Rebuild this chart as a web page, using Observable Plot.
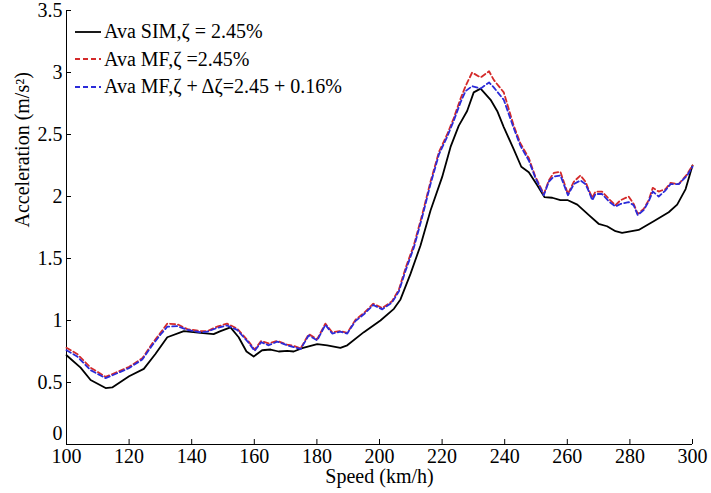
<!DOCTYPE html>
<html><head><meta charset="utf-8">
<script src="https://cdn.jsdelivr.net/npm/d3@7"></script>
<script src="https://cdn.jsdelivr.net/npm/@observablehq/plot@0.6"></script>
<style>
body{margin:0;background:#fff;}
#wrap{position:relative;width:711px;height:493px;font-family:"Liberation Serif","Times New Roman",Times,"DejaVu Serif",serif;}
#wrap svg text{font-family:"Liberation Serif","Times New Roman",Times,"DejaVu Serif",serif;}
#legend{position:absolute;left:75px;top:18px;font-size:20px;color:#000;}
.row{display:flex;align-items:center;height:27.5px;white-space:nowrap;}
.row svg{width:26px;height:10px;margin-right:3px;}
</style></head><body><div id="wrap"><div id="legend"></div></div>
<script>
const simSpeed = [100,104.5,107.7,112.5,114.6,120,124.7,128.4,132.2,137.5,142.8,147,149.2,152.4,155,157.5,159.8,162.5,165.2,167.8,170.5,172.6,175.3,180.1,183.3,187.5,189.7,195,200.3,204.6,206.7,209.9,213.1,216.3,220,222.7,225.3,228,230.1,232.3,235.5,237.6,239.7,242.9,245.3,247.7,250.4,252.7,255.2,257.8,260.2,263.2,266.9,270,272.7,275.4,277.5,282.8,287.6,292.4,295.1,297.8,300];
const simAcc = [0.72,0.62,0.52,0.455,0.46,0.55,0.61,0.73,0.865,0.914,0.90,0.89,0.914,0.945,0.865,0.75,0.71,0.76,0.766,0.75,0.755,0.75,0.777,0.81,0.80,0.78,0.80,0.906,1.0,1.094,1.17,1.376,1.605,1.887,2.156,2.40,2.57,2.69,2.84,2.87,2.78,2.69,2.56,2.38,2.24,2.196,2.09,1.995,1.99,1.97,1.97,1.935,1.85,1.78,1.76,1.72,1.707,1.73,1.80,1.873,1.935,2.06,2.25];

const mfSpeed = [100,103.4,107.7,112.5,116.7,119.9,124.2,127.4,130,132.2,135.4,138.6,142.8,145,148.1,151.3,154.5,158.2,160.1,162.2,164.6,167.3,170.5,172.6,174.8,177.4,180.1,182.7,184.9,187.5,189.7,192.3,195,198,200.9,204,206.2,208.3,211,213.6,216.3,219,221.6,223.7,225.9,227.5,229.6,232.3,235,236.5,239.7,242.9,245,247.7,249.8,252.5,254.1,255.7,257.8,260.2,262.1,264.2,265.8,266.9,268,269,271.1,273.3,275.4,277,279.6,281.2,282.5,284.4,286,287.3,289.2,291.4,293,295.6,298.3,300];
const mfAcc = [0.78,0.73,0.62,0.545,0.59,0.625,0.695,0.815,0.90,0.975,0.97,0.93,0.915,0.915,0.95,0.975,0.935,0.83,0.765,0.835,0.815,0.835,0.805,0.795,0.775,0.89,0.85,0.975,0.905,0.915,0.90,1.005,1.06,1.135,1.10,1.155,1.25,1.42,1.61,1.85,2.12,2.36,2.50,2.63,2.79,2.89,3.00,2.96,3.01,2.94,2.84,2.57,2.43,2.31,2.16,2.02,2.13,2.19,2.20,2.02,2.12,2.17,2.12,2.05,1.99,2.04,2.04,1.98,1.93,1.97,2.00,1.94,1.86,1.90,1.97,2.07,2.04,2.06,2.11,2.10,2.18,2.25];
const mfdAcc = [0.76,0.71,0.60,0.535,0.58,0.615,0.685,0.80,0.885,0.95,0.955,0.925,0.905,0.91,0.94,0.96,0.925,0.82,0.755,0.825,0.80,0.83,0.80,0.785,0.77,0.88,0.84,0.965,0.895,0.91,0.895,0.995,1.05,1.125,1.09,1.145,1.235,1.40,1.59,1.83,2.10,2.34,2.48,2.61,2.76,2.85,2.89,2.87,2.92,2.88,2.78,2.55,2.41,2.29,2.15,2.01,2.12,2.16,2.17,2.01,2.10,2.13,2.10,2.04,1.97,2.02,2.02,1.96,1.92,1.94,1.955,1.93,1.85,1.89,1.96,2.04,2.00,2.05,2.10,2.10,2.17,2.24];

const xTicks = [100,120,140,160,180,200,220,240,260,280,300];
const yTicks = [0.5,1,1.5,2,2.5,3,3.5];
const yZeroTick = [0];
const seriesNames = ["Ava SIM,\u03B6 = 2.45%", "Ava MF,\u03B6 =2.45%", "Ava MF,\u03B6 + \u0394\u03B6=2.45 + 0.16%"];
const seriesColors = ["#000000", "#d42a2a", "#2b2bd9"];
const seriesDash = [null, "5,3", "5,3"];
const xLabel = "Speed (km/h)";
const yLabel = "Acceleration (m/s\u00B2)";

const sim = simSpeed.map((s, i) => ({s, a: simAcc[i]}));
const mf = mfSpeed.map((s, i) => ({s, a: mfAcc[i]}));
const mfd = mfSpeed.map((s, i) => ({s, a: mfdAcc[i]}));

const font = "Liberation Serif, Times New Roman, Times, DejaVu Serif, serif";
const chart = Plot.plot({
  width: 711, height: 493,
  marginLeft: 66, marginRight: 19, marginTop: 10, marginBottom: 49,
  x: {domain: [100, 300]},
  y: {domain: [0, 3.5]},
  style: {fontFamily: font, fontSize: "20px", color: "#000", background: "#fff", overflow: "visible"},
  marks: [
    Plot.ruleY([0], {stroke: "#000", strokeWidth: 1}),
    Plot.ruleX([100], {stroke: "#000", strokeWidth: 1}),
    Plot.axisX({ticks: xTicks, tickSize: -5, tickPadding: 9, label: null, fontSize: 20, tickFormat: d => String(d)}),
    Plot.axisY({ticks: yTicks, tickSize: -5, tickPadding: 9, label: null, fontSize: 20, tickFormat: d => String(d)}),
    Plot.axisY({ticks: yZeroTick, tickSize: 0, tickPadding: 4, label: null, fontSize: 20, dy: -11, tickFormat: d => String(d)}),
    Plot.line(sim, {x: "s", y: "a", stroke: seriesColors[0], strokeWidth: 1.8}),
    Plot.line(mf, {x: "s", y: "a", stroke: seriesColors[1], strokeWidth: 1.8, strokeDasharray: seriesDash[1]}),
    Plot.line(mfd, {x: "s", y: "a", stroke: seriesColors[2], strokeWidth: 1.8, strokeDasharray: seriesDash[2]}),
    Plot.text([xLabel], {text: d => d, frameAnchor: "bottom", dy: 38, fontSize: 20}),
    Plot.text([yLabel], {text: d => d, frameAnchor: "left", rotate: -90, dx: -44, fontSize: 20})
  ]
});
const wrap = document.getElementById("wrap");
wrap.insertBefore(chart, wrap.firstChild);

const legend = d3.select("#legend");
seriesNames.forEach((name, i) => {
  const row = legend.append("div").attr("class", "row");
  const svg = row.append("svg").attr("viewBox", "0 0 26 10");
  svg.append("line").attr("x1", 0).attr("x2", 26).attr("y1", 5).attr("y2", 5)
    .attr("stroke", seriesColors[i]).attr("stroke-width", 1.8)
    .attr("stroke-dasharray", seriesDash[i]);
  row.append("span").text(name);
});
</script>
</body></html>
